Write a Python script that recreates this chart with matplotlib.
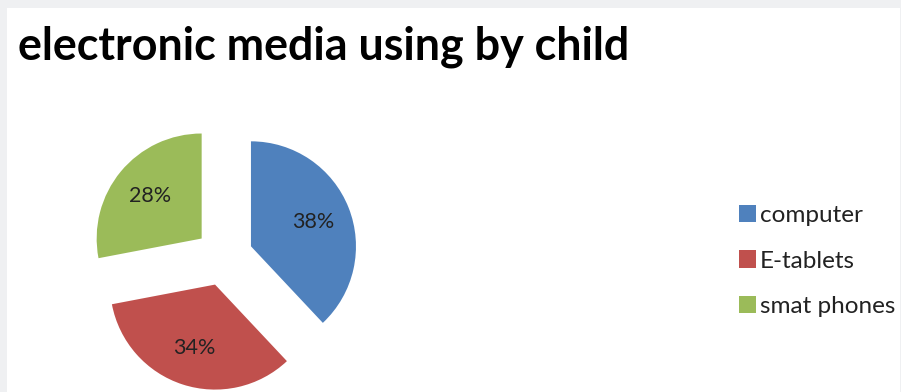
import matplotlib
matplotlib.use("Agg")
import matplotlib.pyplot as plt
from matplotlib.patches import Rectangle

categories = ["computer", "E-tablets", "smat phones"]
values = [38, 34, 28]
colors = ["#4F81BD", "#C0504D", "#9BBB59"]
title = "electronic media using by child"

W, H = 901, 392
fig = plt.figure(figsize=(W / 100, H / 100), dpi=100)
fig.patch.set_facecolor("#eff0f2")
fig.patches.append(Rectangle((7 / W, 0), 1 - 8 / W, 1 - 8 / H, transform=fig.transFigure,
                             facecolor="white", edgecolor="none", zorder=-5))

ax = fig.add_axes([0, 0, 1, 1])
ax.set_zorder(2)
ax.patch.set_alpha(0)

wedges, texts, autotexts = ax.pie(
    values, colors=colors, startangle=90, counterclock=False,
    center=(224, H - 257), radius=105, explode=[29] * len(values),
    autopct="%d%%", pctdistance=0.64, frame=True,
    textprops=dict(family="Lato", fontsize=15.5, color="#222222"),
    wedgeprops=dict(linewidth=0),
)
ax.set_xlim(0, W)
ax.set_ylim(0, H)
ax.set_aspect("equal")
ax.axis("off")

fig.text(18 / W, 1 - 59 / H, title, family="Lato", fontweight="bold", fontsize=32.3,
         color="black", ha="left", va="baseline")

leg = ax.legend(wedges, categories, loc="center left", bbox_to_anchor=(739 / W, 1 - 261 / H),
                bbox_transform=fig.transFigure, frameon=False,
                prop=dict(family="Lato", size=17.5), handlelength=0.7, handleheight=0.7,
                handletextpad=0.15, labelspacing=1.0, borderpad=0, borderaxespad=0)
for t in leg.get_texts():
    t.set_color("#222222")

fig.savefig("out.png", dpi=100)
